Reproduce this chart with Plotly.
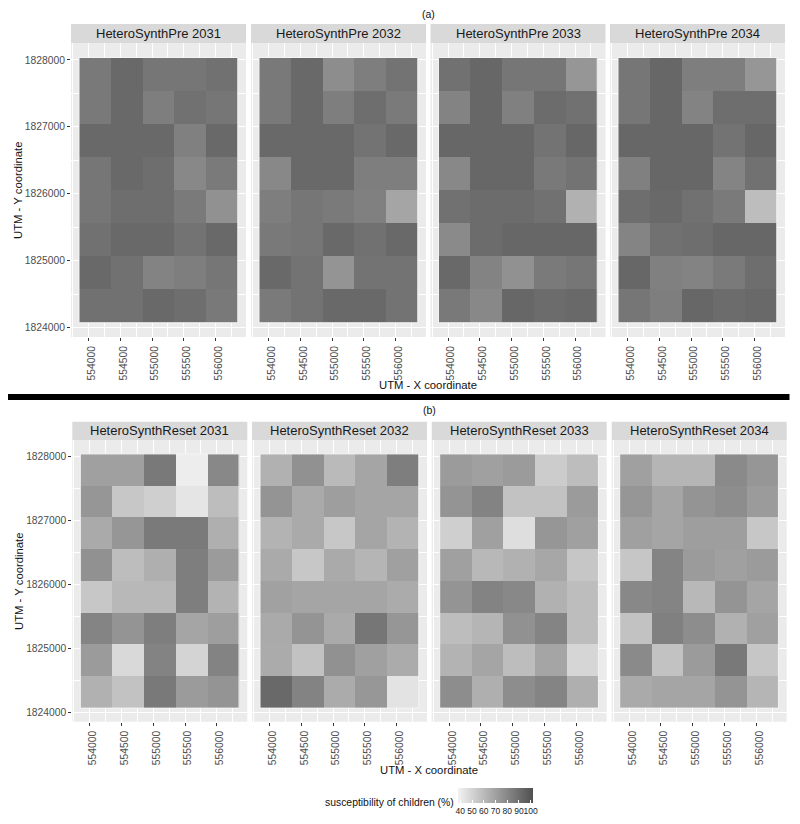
import plotly.graph_objects as go

x_centers = [554100, 554600, 555100, 555600, 556100]
y_centers = [1827789, 1827293, 1826797, 1826301, 1825805, 1825309, 1824813, 1824317]
years = [2031, 2032, 2033, 2034]
x_ticks = [554000, 554500, 555000, 555500, 556000]
y_ticks = [1824000, 1825000, 1826000, 1827000, 1828000]

pre_2031 = [[86,92,87,87,89],[86,92,84,89,87],[92,92,92,83,92],[87,92,90,80,85.5],
            [87,90,90,85.5,76.5],[89,92,92,88,92],[92,89,82,84,87],[89,89,92,90,86]]
pre_2032 = [[86,92,78,84,88],[86,92,84,90,85.5],[92,92,92,88,92],[80,92,92,84,84],
            [84,87,85.5,83,68.5],[86,87,92,89,92],[92,88,75,88,88],[85.5,88,92,92,88]]
pre_2033 = [[89,93,87,87,74.5],[82,93,83,91,89],[93,93,93,88,93],[80,93,93,86,88],
            [89,91,91,89,63.5],[79,91,93,93,93],[92,82,76.5,85.5,87],[86,80,93,91,92]]
pre_2034 = [[87,93,84,84,74.5],[87,93,82,90,90],[93,93,93,88,93],[83,93,93,81.5,89],
            [90,92,89,85.5,59],[81.5,89,90,93,93],[93,83,82,85.5,90],[87,84,93,91,92]]
reset_2031 = [[70.5,70.5,86,40,80],[74.5,55,52,43,59],[66.5,74.5,85.5,85.5,64.5],[76.5,59,64.5,84,72.5],
              [55,61,61,84,63],[81.5,75,84,68.5,71],[72.5,48,82,50,82],[63.5,57,86,72.5,75]]
reset_2032 = [[63.5,76.5,60,68.5,84],[75,66.5,71,68.5,68.5],[63,66.5,55,68.5,63],[66.5,55,66.5,62,70.5],
              [70,68.5,68.5,68.5,66],[66.5,75,66.5,87,74.5],[66,57,76.5,70.5,66],[92,82,66,74,44]]
reset_2033 = [[72.5,70.5,72.5,53,59],[75,82,57,57,72.5],[52,70.5,46,74.5,70.5],[70.5,61,63.5,67.5,55.5],
              [75,82,80,63.5,59],[59,62,76.5,81.5,59],[63,68.5,59,68.5,49],[78,64.5,78,81.5,64.5]]
reset_2034 = [[70.5,62,62,79,74.5],[74.5,68.5,75,78,72.5],[70.5,68.5,71,71,55],[55.5,81.5,72.5,70.5,72.5],
              [80,81.5,61,75,68.5],[57,83,78,63.5,70.5],[79,57,72.5,86,55.5],[66.5,68.5,68.5,75,62]]

rows = [
    ("HeteroSynthPre", [pre_2031, pre_2032, pre_2033, pre_2034]),
    ("HeteroSynthReset", [reset_2031, reset_2032, reset_2033, reset_2034]),
]

W, H = 800, 824
FONT = "Liberation Sans"
TICK = "#4D4D4D"
panel_w = 175
lefts = [[71, 251, 430.5, 610], [72.3, 252, 431.7, 611.7]]
tops = [43, 440]
bottoms = [337, 721.7]
strip_tops = [24, 421.7]

fig = go.Figure()
layout = {}
shapes = []
annotations = []

idx = 0
for r, (name, panels) in enumerate(rows):
    for c, z in enumerate(panels):
        idx += 1
        x0 = lefts[r][c]
        xa, ya = f"xaxis{idx}", f"yaxis{idx}"
        fig.add_trace(go.Heatmap(x=x_centers, y=y_centers, z=z, coloraxis="coloraxis",
                                 xaxis=f"x{idx}", yaxis=f"y{idx}", xgap=0, ygap=0))
        layout[xa] = dict(
            domain=[x0 / W, (x0 + panel_w) / W], range=[553724, 556480], anchor=f"y{idx}",
            tickmode="array", tickvals=x_ticks, ticktext=[str(v) for v in x_ticks],
            tickangle=-90, ticks="outside", ticklen=3, tickwidth=1, tickcolor="#333333",
            ticklabelshift=3, ticklabelstandoff=1,
            tickfont=dict(size=10.3, color=TICK, family=FONT),
            showgrid=True, gridcolor="white", gridwidth=1.1, zeroline=False, showline=False,
            minor=dict(tickmode="array", tickvals=[553750, 554250, 554750, 555250, 555750, 556250],
                       showgrid=True, gridcolor="white", gridwidth=0.5),
        )
        layout[ya] = dict(
            domain=[1 - bottoms[r] / H, 1 - tops[r] / H], range=[1823858, 1828254], anchor=f"x{idx}",
            tickmode="array", tickvals=y_ticks, ticktext=[str(v) for v in y_ticks],
            showticklabels=c == 0, ticks="outside" if c == 0 else "", ticklen=3, tickwidth=1,
            tickcolor="#333333", tickfont=dict(size=10.3, color=TICK, family=FONT),
            showgrid=True, gridcolor="white", gridwidth=1.1, zeroline=False, showline=False,
            minor=dict(tickmode="array", tickvals=[1824500, 1825500, 1826500, 1827500],
                       showgrid=True, gridcolor="white", gridwidth=0.5),
        )
        shapes.append(dict(type="rect", xref="paper", yref="paper", layer="below",
                           x0=x0 / W, x1=(x0 + panel_w) / W, y0=1 - tops[r] / H, y1=1 - strip_tops[r] / H,
                           fillcolor="#D9D9D9", line_width=0))
        shapes.append(dict(type="rect", xref="paper", yref="paper", layer="below",
                           x0=x0 / W, x1=(x0 + panel_w) / W, y0=1 - bottoms[r] / H, y1=1 - tops[r] / H,
                           fillcolor="#EBEBEB", line_width=0))
        # pale halo around the tile block, following the heatmap's own extent
        half_x = (x_centers[1] - x_centers[0]) / 2
        half_y = (y_centers[0] - y_centers[1]) / 2
        shapes.append(dict(type="rect", xref=f"x{idx}", yref=f"y{idx}", layer="above",
                           x0=x_centers[0] - half_x, x1=x_centers[-1] + half_x,
                           y0=y_centers[-1] - half_y, y1=y_centers[0] + half_y,
                           fillcolor="rgba(0,0,0,0)", line=dict(color="#F4F4F4", width=1)))
        annotations.append(dict(text=f"{name} {years[c]}", xref="paper", yref="paper", showarrow=False,
                                x=(x0 + panel_w / 2) / W, y=1 - (tops[r] + strip_tops[r]) / 2 / H,
                                xanchor="center", yanchor="middle",
                                font=dict(size=13, color="#1A1A1A", family=FONT)))


def note(text, px, py, size=12, angle=0, xanchor="center", color="#111111"):
    annotations.append(dict(text=text, xref="paper", yref="paper", showarrow=False, x=px / W, y=1 - py / H,
                            xanchor=xanchor, yanchor="middle", textangle=angle,
                            font=dict(size=size, color=color, family=FONT)))


note("(a)", 428, 13.5, 10.5)
note("(b)", 429, 410, 10.5)
note("UTM - X coordinate", 428, 385, 11.3)
note("UTM - X coordinate", 429, 770, 11.3)
note("UTM - Y coordinate", 18, 190, 11.3, -90)
note("UTM - Y coordinate", 19, 581, 11.3, -90)
note("susceptibility of children (%)", 456, 802, 10.4, xanchor="right")

shapes.append(dict(type="rect", xref="paper", yref="paper", x0=8 / W, x1=789.5 / W,
                   y0=1 - 400 / H, y1=1 - 394 / H, fillcolor="black", line_width=0))

fig.update_layout(
    width=W, height=H, margin=dict(l=0, r=0, t=0, b=0), paper_bgcolor="white", plot_bgcolor="rgba(0,0,0,0)",
    shapes=shapes, annotations=annotations, showlegend=False,
    coloraxis=dict(
        cmin=38, cmax=102, colorscale=[[0, "#F2F2F2"], [1, "#505050"]],
        colorbar=dict(orientation="h", x=458 / W, xanchor="left", y=1 - 788 / H, yanchor="top",
                      thickness=15, thicknessmode="pixels", len=75, lenmode="pixels",
                      xpad=0, ypad=0, outlinewidth=0, tickmode="array",
                      tickvals=[40, 50, 60, 70, 80, 90, 100], ticks="inside", ticklen=3,
                      tickangle=0, tickcolor="white",
                      tickfont=dict(size=8.5, color="#222222", family=FONT)),
    ),
    **layout,
)
fig.write_html("out.html", config={"displayModeBar": False},
               post_script="document.body.style.margin='0';document.body.style.overflow='hidden';")
